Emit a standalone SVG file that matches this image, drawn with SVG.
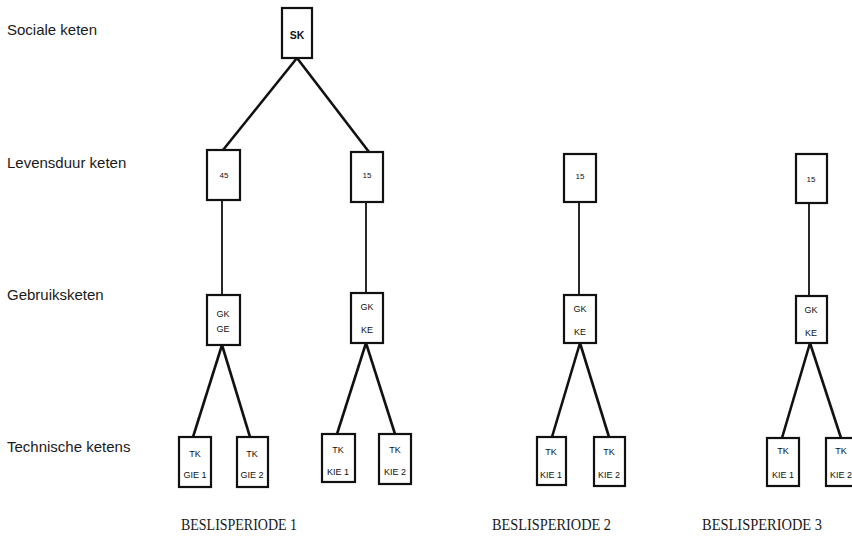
<svg xmlns="http://www.w3.org/2000/svg" width="852" height="538" viewBox="0 0 852 538">
<style>
.lbl{font-family:"Liberation Sans",Arial,sans-serif;font-size:15px;fill:#1a1a1a}
.per{font-family:"Liberation Serif","Times New Roman",serif;font-size:16px;fill:#1a1a1a}
.box{fill:#fff;stroke:#111;stroke-width:2.2}
.t{font-family:"Liberation Sans",Arial,sans-serif;font-size:9px;fill:#111;text-anchor:middle}
.n{font-family:"Liberation Sans",Arial,sans-serif;font-size:8px;fill:#111;text-anchor:middle}
.thick{stroke:#111;stroke-width:2.6;fill:none}
.thin{stroke:#111;stroke-width:1.8;fill:none}
</style>
<rect width="852" height="538" fill="#fff"/>
<g id="level-labels">
<text class="lbl" x="7" y="35">Sociale keten</text>
<text class="lbl" x="7" y="168">Levensduur keten</text>
<text class="lbl" x="7" y="300">Gebruiksketen</text>
<text class="lbl" x="7" y="452">Technische ketens</text>
</g>
<g id="connectors">
<line class="thick" x1="297" y1="58" x2="223" y2="150"/>
<line class="thick" x1="297" y1="58" x2="369" y2="152"/>
<line class="thin" x1="222" y1="200" x2="222" y2="295"/>
<line class="thin" x1="366" y1="202" x2="366" y2="293"/>
<line class="thin" x1="579" y1="202" x2="579" y2="295"/>
<line class="thin" x1="809" y1="203" x2="809" y2="296"/>
<line class="thick" x1="222" y1="345" x2="193" y2="437"/>
<line class="thick" x1="222" y1="345" x2="250" y2="437"/>
<line class="thick" x1="366" y1="343" x2="337" y2="434"/>
<line class="thick" x1="366" y1="343" x2="395" y2="434"/>
<line class="thick" x1="580" y1="343" x2="552" y2="437"/>
<line class="thick" x1="580" y1="343" x2="609" y2="437"/>
<line class="thick" x1="810" y1="343" x2="782" y2="438"/>
<line class="thick" x1="810" y1="343" x2="841" y2="438"/>
</g>
<g id="sk">
<rect class="box" x="282" y="8" width="30" height="50"/>
<text class="t" x="297" y="39" style="font-size:10.5px;font-weight:bold">SK</text>
</g>
<g id="lk-45">
<rect class="box" x="207" y="150" width="33" height="50"/>
<text class="n" x="224" y="178">45</text>
</g>
<g id="lk-15-p1">
<rect class="box" x="351" y="152" width="32" height="50"/>
<text class="n" x="367" y="178">15</text>
</g>
<g id="lk-15-p2">
<rect class="box" x="564" y="154" width="32" height="48"/>
<text class="n" x="580" y="179">15</text>
</g>
<g id="lk-15-p3">
<rect class="box" x="796" y="154" width="31" height="49"/>
<text class="n" x="811" y="182">15</text>
</g>
<g id="gk-ge">
<rect class="box" x="207" y="295" width="33" height="50"/>
<text class="t" x="223" y="317">GK</text>
<text class="t" x="223" y="332">GE</text>
</g>
<g id="gk-ke-p1">
<rect class="box" x="351" y="293" width="32" height="50"/>
<text class="t" x="367" y="310">GK</text>
<text class="t" x="367" y="333">KE</text>
</g>
<g id="gk-ke-p2">
<rect class="box" x="564" y="295" width="32" height="48"/>
<text class="t" x="580" y="312">GK</text>
<text class="t" x="580" y="335">KE</text>
</g>
<g id="gk-ke-p3">
<rect class="box" x="796" y="296" width="31" height="47"/>
<text class="t" x="811" y="313">GK</text>
<text class="t" x="811" y="336">KE</text>
</g>
<g id="tk-gie1">
<rect class="box" x="179" y="437" width="32" height="50"/>
<text class="t" x="195" y="457">TK</text>
<text class="t" x="195" y="478">GIE 1</text>
</g>
<g id="tk-gie2">
<rect class="box" x="237" y="437" width="31" height="50"/>
<text class="t" x="252" y="457">TK</text>
<text class="t" x="252" y="478">GIE 2</text>
</g>
<g id="tk-kie1-p1">
<rect class="box" x="322" y="434" width="33" height="48"/>
<text class="t" x="338" y="453">TK</text>
<text class="t" x="338" y="475">KIE 1</text>
</g>
<g id="tk-kie2-p1">
<rect class="box" x="379" y="434" width="32" height="50"/>
<text class="t" x="395" y="453">TK</text>
<text class="t" x="395" y="475">KIE 2</text>
</g>
<g id="tk-kie1-p2">
<rect class="box" x="537" y="437" width="29" height="48"/>
<text class="t" x="551" y="455">TK</text>
<text class="t" x="551" y="478">KIE 1</text>
</g>
<g id="tk-kie2-p2">
<rect class="box" x="594" y="437" width="31" height="49"/>
<text class="t" x="609" y="455">TK</text>
<text class="t" x="609" y="478">KIE 2</text>
</g>
<g id="tk-kie1-p3">
<rect class="box" x="767" y="438" width="32" height="48"/>
<text class="t" x="783" y="454">TK</text>
<text class="t" x="783" y="478">KIE 1</text>
</g>
<g id="tk-kie2-p3">
<rect class="box" x="826" y="438" width="31" height="48"/>
<text class="t" x="841" y="454">TK</text>
<text class="t" x="841" y="478">KIE 2</text>
</g>
<g id="period-labels">
<text class="per" x="181" y="530" textLength="116" lengthAdjust="spacingAndGlyphs">BESLISPERIODE 1</text>
<text class="per" x="492" y="530" textLength="119" lengthAdjust="spacingAndGlyphs">BESLISPERIODE 2</text>
<text class="per" x="702" y="530" textLength="120" lengthAdjust="spacingAndGlyphs">BESLISPERIODE 3</text>
</g>
</svg>
